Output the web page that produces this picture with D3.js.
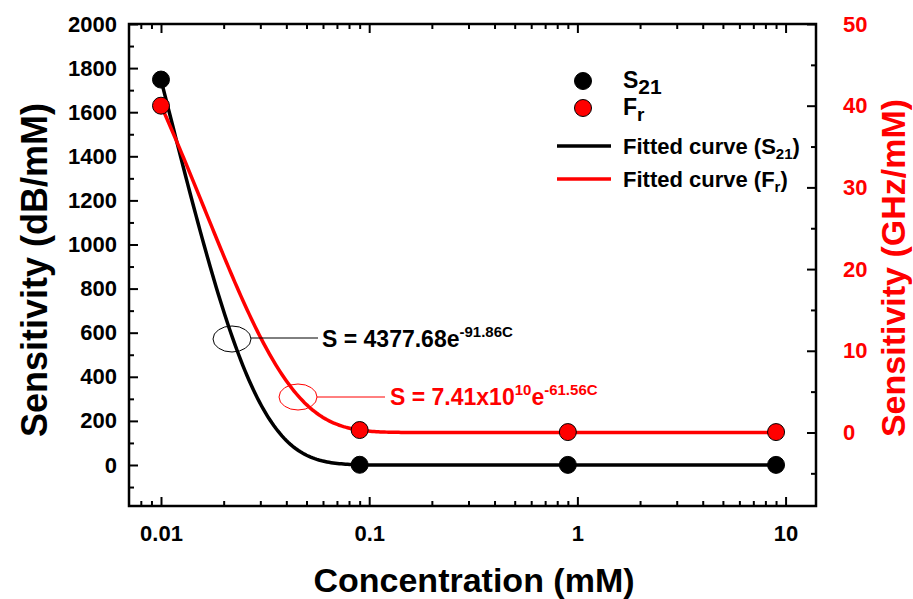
<!DOCTYPE html>
<html><head><meta charset="utf-8">
<script src="https://cdn.jsdelivr.net/npm/d3@7"></script>
<style>
html,body{margin:0;padding:0;background:#fff;}
svg text{font-family:"Liberation Sans",Arial,Helvetica,sans-serif;font-weight:bold;}
</style></head>
<body><svg id="chart" width="913" height="599"></svg>
<script>
// ---- data ----
const concentration = [0.01, 0.09, 0.9, 9];          // mM
const s21Sensitivity = [1748, 1, 0.5, 0.5];          // dB/mM (left axis)
const frSensitivity = [40, 0.3, 0.05, 0.05];         // GHz/mM (right axis)
const fitS21 = {a: 4377.68, b: 91.86};               // S = a e^{-bC}  (dB/mM)
const fitFr = {a: 7.41e10, b: 61.56};                // S = a e^{-bC}  (Hz/mM)
const xMajorTicks = [0.01, 0.1, 1, 10];
const xTickLabels = ["0.01", "0.1", "1", "10"];
const leftTicks = [0, 200, 400, 600, 800, 1000, 1200, 1400, 1600, 1800, 2000];
const rightTicks = [0, 10, 20, 30, 40, 50];

// ---- layout ----
const L = 129, R = 816, T = 24, B = 506;
const svg = d3.select("#chart");
const x = d3.scaleLog().domain([0.00702, 14.0]).range([L, R]);
const yL = d3.scaleLinear().domain([-186, 2000]).range([B, T]);
const yR = d3.scaleLinear().domain([-9.0, 50]).range([B, T]);
const RED = "#ff0000";

// minor ticks for log axis
const xMinor = [];
[0.001, 0.01, 0.1, 1, 10].forEach(d => { for (let k = 2; k <= 9; k++) { const v = d * k; if (v > x.domain()[0] && v < x.domain()[1] && !xMajorTicks.includes(v)) xMinor.push(v); } });
const leftMinor = d3.range(-100, 2000, 200);
const rightMinor = [-5, 5, 15, 25, 35, 45];

const g = svg.append("g");
function styleAxis(sel) {
  sel.select(".domain").remove();
  sel.selectAll(".tick line").attr("stroke", "#000").attr("stroke-width", 2);
  sel.selectAll("text").attr("font-size", 22).attr("fill", "#000");
}
// bottom
g.append("g").attr("transform", `translate(0,${B})`)
  .call(d3.axisBottom(x).tickValues(xMajorTicks).tickSize(-9).tickPadding(19).tickFormat((d, i) => xTickLabels[i]))
  .call(styleAxis);
g.append("g").attr("transform", `translate(0,${B})`)
  .call(d3.axisBottom(x).tickValues(xMinor).tickSize(-5).tickFormat(""))
  .call(styleAxis);
// top
g.append("g").attr("transform", `translate(0,${T})`)
  .call(d3.axisTop(x).tickValues(xMajorTicks).tickSize(-9).tickFormat(""))
  .call(styleAxis);
g.append("g").attr("transform", `translate(0,${T})`)
  .call(d3.axisTop(x).tickValues(xMinor).tickSize(-5).tickFormat(""))
  .call(styleAxis);
// left
g.append("g").attr("transform", `translate(${L},0)`)
  .call(d3.axisLeft(yL).tickValues(leftTicks).tickSize(-9).tickPadding(12).tickFormat(d3.format("d")))
  .call(styleAxis);
g.append("g").attr("transform", `translate(${L},0)`)
  .call(d3.axisLeft(yL).tickValues(leftMinor).tickSize(-5).tickFormat(""))
  .call(styleAxis);
// right
const rAx = g.append("g").attr("transform", `translate(${R},0)`)
  .call(d3.axisRight(yR).tickValues(rightTicks).tickSize(-9).tickPadding(27).tickFormat(d3.format("d")))
  .call(styleAxis);
rAx.selectAll("text").attr("fill", RED);
g.append("g").attr("transform", `translate(${R},0)`)
  .call(d3.axisRight(yR).tickValues(rightMinor).tickSize(-5).tickFormat(""))
  .call(styleAxis);

// frame
svg.append("rect").attr("x", L).attr("y", T).attr("width", R - L).attr("height", B - T)
  .attr("fill", "none").attr("stroke", "#000").attr("stroke-width", 2.5);

// fitted curves
const cSamples = d3.range(0, 301).map(i => Math.pow(10, Math.log10(0.01) + i / 300 * (Math.log10(9) - Math.log10(0.01))));
const lineS = d3.line().x(c => x(c)).y(c => yL(fitS21.a * Math.exp(-fitS21.b * c)));
const lineF = d3.line().x(c => x(c)).y(c => yR(fitFr.a * Math.exp(-fitFr.b * c) / 1e9));
svg.append("path").attr("d", lineS(cSamples)).attr("fill", "none").attr("stroke", "#000").attr("stroke-width", 3.5);
svg.append("path").attr("d", lineF(cSamples)).attr("fill", "none").attr("stroke", RED).attr("stroke-width", 3.5);

// points
svg.append("g").selectAll("circle").data(concentration).join("circle")
  .attr("cx", d => x(d)).attr("cy", (d, i) => yL(s21Sensitivity[i])).attr("r", 8.5)
  .attr("fill", "#000").attr("stroke", "#000").attr("stroke-width", 1);
svg.append("g").selectAll("circle").data(concentration).join("circle")
  .attr("cx", d => x(d)).attr("cy", (d, i) => yR(frSensitivity[i])).attr("r", 8.5)
  .attr("fill", RED).attr("stroke", "#000").attr("stroke-width", 1);

// axis titles
svg.append("text").attr("x", 474).attr("y", 592).attr("text-anchor", "middle")
  .attr("font-size", 34).attr("fill", "#000").text("Concentration (mM)");
svg.append("text").attr("transform", `translate(47,270) rotate(-90)`).attr("text-anchor", "middle")
  .attr("font-size", 36).attr("fill", "#000").text("Sensitivity (dB/mM)");
svg.append("text").attr("transform", `translate(905,268) rotate(-90)`).attr("text-anchor", "middle")
  .attr("font-size", 34).attr("fill", RED).text("Sensitivity (GHz/mM)");

// legend
const lg = svg.append("g");
lg.append("circle").attr("cx", 583).attr("cy", 81).attr("r", 8.5).attr("fill", "#000").attr("stroke", "#000");
lg.append("circle").attr("cx", 583).attr("cy", 108).attr("r", 8.5).attr("fill", RED).attr("stroke", "#000");
lg.append("line").attr("x1", 557).attr("x2", 611).attr("y1", 146).attr("y2", 146).attr("stroke", "#000").attr("stroke-width", 3.5);
lg.append("line").attr("x1", 557).attr("x2", 611).attr("y1", 179).attr("y2", 179).attr("stroke", RED).attr("stroke-width", 3.5);
let t = lg.append("text").attr("x", 623).attr("y", 88).attr("font-size", 23).attr("fill", "#000");
t.append("tspan").text("S"); t.append("tspan").attr("dy", 6).attr("font-size", 21).text("21");
t = lg.append("text").attr("x", 623).attr("y", 115).attr("font-size", 23).attr("fill", "#000");
t.append("tspan").text("F"); t.append("tspan").attr("dy", 6).attr("font-size", 19).text("r");
t = lg.append("text").attr("x", 623).attr("y", 154).attr("font-size", 22).attr("fill", "#000");
t.append("tspan").text("Fitted curve (S"); t.append("tspan").attr("dy", 5).attr("font-size", 15).text("21");
t.append("tspan").attr("dy", -5).text(")");
t = lg.append("text").attr("x", 623).attr("y", 187).attr("font-size", 22).attr("fill", "#000");
t.append("tspan").text("Fitted curve (F"); t.append("tspan").attr("dy", 5).attr("font-size", 15).text("r");
t.append("tspan").attr("dy", -5).text(")");

// annotations
svg.append("ellipse").attr("cx", 232).attr("cy", 339).attr("rx", 19).attr("ry", 13)
  .attr("fill", "none").attr("stroke", "#000").attr("stroke-width", 1);
svg.append("line").attr("x1", 251).attr("x2", 318).attr("y1", 338).attr("y2", 338).attr("stroke", "#000").attr("stroke-width", 1);
t = svg.append("text").attr("x", 322).attr("y", 347).attr("font-size", 23).attr("fill", "#000");
t.append("tspan").text("S = 4377.68e"); t.append("tspan").attr("dy", -10).attr("font-size", 15).text("-91.86C");
svg.append("ellipse").attr("cx", 298).attr("cy", 397).attr("rx", 19).attr("ry", 13)
  .attr("fill", "none").attr("stroke", RED).attr("stroke-width", 1);
svg.append("line").attr("x1", 317).attr("x2", 385).attr("y1", 397).attr("y2", 397).attr("stroke", RED).attr("stroke-width", 1);
t = svg.append("text").attr("x", 390).attr("y", 405).attr("font-size", 23).attr("fill", RED);
t.append("tspan").text("S = 7.41x10"); t.append("tspan").attr("dy", -10).attr("font-size", 15).text("10");
t.append("tspan").attr("dy", 10).attr("font-size", 23).text("e");
t.append("tspan").attr("dy", -10).attr("font-size", 15).text("-61.56C");
</script></body></html>
